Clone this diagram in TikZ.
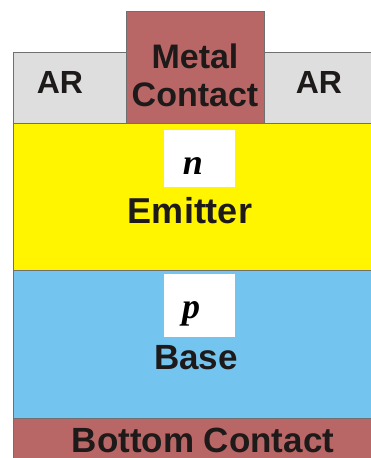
\documentclass[tikz,border=0pt]{standalone}
\usepackage{fontspec}
\setmainfont{Liberation Sans}
\newfontfamily\serifit{Liberation Serif}
\definecolor{argray}{HTML}{DEDEDE}
\definecolor{metal}{HTML}{B96666}
\definecolor{emit}{HTML}{FFF500}
\definecolor{basecol}{HTML}{74C4F0}
\definecolor{edge}{HTML}{707070}
\definecolor{ink}{HTML}{1E1A1A}
\tikzset{
  layer/.style={draw=edge, line width=0.9pt},
  lbl/.style={anchor=base, inner sep=0pt, text=ink, font=\bfseries\fontsize{#1}{#1}\selectfont},
  dop/.style={anchor=base, inner sep=0pt, text=black, font=\serifit\bfseries\itshape\fontsize{36}{36}\selectfont},
}
\begin{document}
\begin{tikzpicture}[x=1pt, y=-1pt]
  \useasboundingbox (0,0) rectangle (371,458);
  \clip (0,0) rectangle (371,458);
  % layer stack
  \filldraw[layer, fill=argray] (13,52) rectangle (380,123);
  \filldraw[layer, fill=metal] (126,11) rectangle (264,123);
  \filldraw[layer, fill=emit] (13,123) rectangle (380,270);
  \filldraw[layer, fill=basecol] (13,270) rectangle (380,418);
  \filldraw[layer, fill=metal] (13,418) rectangle (380,470);
  % doping labels
  \fill[white] (164,130) rectangle (235,187);
  \fill[white] (164,274) rectangle (235,337);
  \node[dop] (n) at (193,174) {n};
  \node[dop] (p) at (191,318) {p};
  % layer names
  \node[lbl=32] (arl) at (60,93) {AR};
  \node[lbl=32] (arr) at (319,93) {AR};
  \node[lbl=34] (metal) at (195,68) {Metal};
  \node[lbl=34] (contact) at (195,106) {Contact};
  \node[lbl=36] (emitter) at (190,223) {Emitter};
  \node[lbl=35] (base) at (196,369) {Base};
  \node[lbl=35] (bottom) at (203,452) {Bottom Contact};
\end{tikzpicture}
\end{document}
